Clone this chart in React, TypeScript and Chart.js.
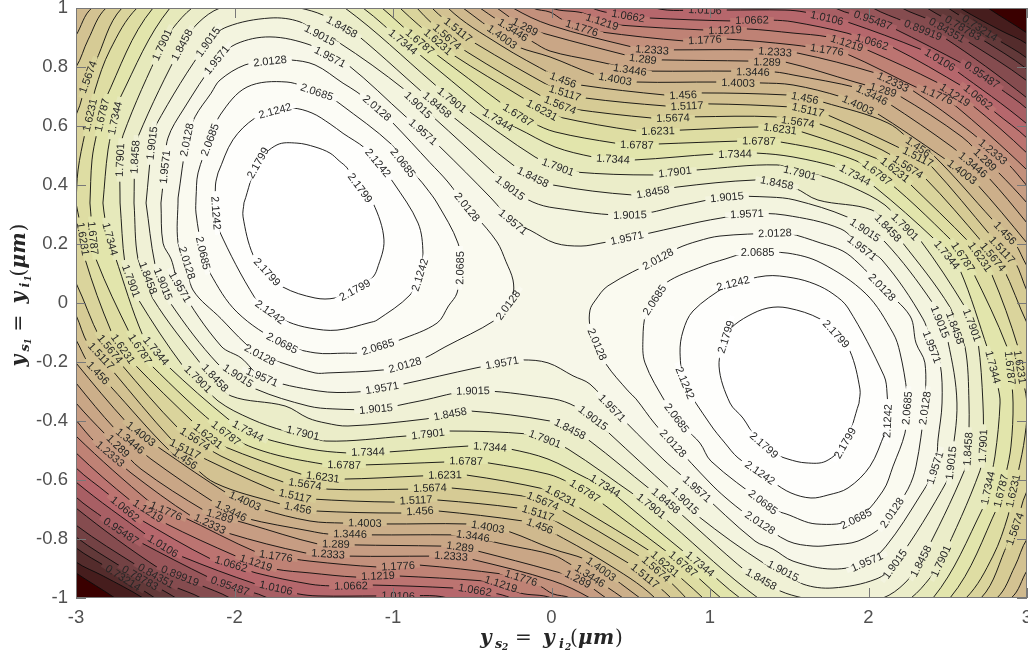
import React, { useEffect, useRef } from "react";
import { Chart, registerables } from "chart.js";

Chart.register(...registerables);

type P = number[];

const X_TICKS = [-3, -2, -1, 0, 1, 2, 3];
const Y_TICKS = [-1, -0.8, -0.6, -0.4, -0.2, 0, 0.2, 0.4, 0.6, 0.8, 1];

// Closed contours around the left peak (the right peak is the point reflection).
// Third value marks a label: 1 on both halves, 2 on this half only, 3 on the reflected half only.
const LOOP_2_1799: P[] = [[-1.94,.34],[-1.852,.475,1],[-1.732,.536],[-1.606,.542],[-1.492,.529],[-1.397,.508],[-1.34,.482,3],[-1.29,.458],[-1.208,.39,2],[-1.126,.339],[-1.057,.214],[-1.1,.115,3],[-1.132,.085],[-1.24,.044,2],[-1.366,.017],[-1.492,.017],[-1.694,.054],[-1.795,.105,1],[-1.883,.163],[-1.946,.292],[-1.94,.34]];
const LOOP_2_1242: P[] = [[-2.104,.441],[-2.01,.553],[-1.871,.627],[-1.744,.651,2],[-1.637,.661],[-1.511,.644],[-1.397,.607],[-1.315,.575,3],[-1.177,.525],[-1.095,.475,2],[-1,.41],[-.842,.271,3],[-.811,.169],[-.83,.095,2],[-.893,.027],[-1.101,-.058],[-1.145,-.066,3],[-1.353,-.092],[-1.524,-.085],[-1.662,-.064],[-1.776,-.031,2],[-1.871,.017],[-2.098,.247],[-2.117,.305,2],[-2.12,.4,3],[-2.104,.441]];
const LOOP_2_0685: P[] = [[-2.243,.356,3],[-2.23,.441],[-2.155,.553,2],[-2.091,.637],[-1.921,.732,3],[-1.669,.749],[-1.48,.715,2],[-1.41,.702],[-1.334,.675,3],[-1.006,.536],[-.937,.475,2],[-.842,.424],[-.79,.39,3],[-.722,.339],[-.59,.203],[-.577,.119,2],[-.596,.034],[-.65,-.01,3],[-.722,-.068],[-.956,-.125],[-1.095,-.149,2],[-1.221,-.169],[-1.3,-.17,3],[-1.492,-.169],[-1.7,-.136,2],[-1.984,-.031],[-2.155,.102],[-2.199,.169,2],[-2.243,.305],[-2.243,.356]];
const LOOP_2_0128: P[] = [[-2.356,.356,3],[-2.3,.553,2],[-2.249,.631],[-2.148,.711,3],[-2.091,.756],[-1.934,.807],[-1.776,.82,2],[-1.65,.824],[-1.492,.807],[-1.315,.745,3],[-1.227,.715],[-1.101,.661,2],[-1,.61],[-.767,.476,3],[-.653,.41],[-.533,.325,2],[-.483,.298],[-.344,.207],[-.287,.14,3],[-.243,.078],[-.243,.024],[-.274,-.007,2],[-.356,-.058],[-.672,-.149,3],[-.798,-.186],[-.924,-.21,2],[-1.063,-.227],[-1.41,-.237,3],[-1.492,-.237],[-1.7,-.203],[-1.839,-.176,2],[-1.934,-.136],[-2.085,-.053,3],[-2.262,.044],[-2.3,.136,2],[-2.356,.203],[-2.356,.356]];

// Half-curves over the top of the plot; each ends at the reflection of its start.
const HALF_1_9571: P[] = [[-2.464,.339],[-2.439,.461,2],[-2.42,.559,3],[-2.325,.654],[-2.111,.824,2],[-1.99,.878,3],[-1.776,.902],[-1.524,.875],[-1.397,.834,2],[-1.284,.807],[-.918,.631,3],[-.811,.58,2],[-.703,.529],[-.382,.356,3],[-.243,.275,2],[-.136,.247],[.022,.203],[.186,.193],[.312,.203,3],[.476,.22,2],[.937,.275],[1.069,.288,3],[1.233,.302,2],[1.473,.298],[1.826,.251,3],[1.959,.186,2],[2.085,.146],[2.344,-.054,3],[2.4,-.149,2],[2.451,-.203],[2.464,-.339]];
const HALF_1_9015: P[] = [[-2.558,.339],[-2.521,.542,1],[-2.502,.597],[-2.167,.885,1],[-2.047,.936],[-1.776,.966],[-1.587,.953],[-1.461,.908,1],[-1.347,.885],[-.924,.722],[-.842,.671,1],[-.748,.631],[-.369,.444],[-.262,.39,1],[-.117,.342],[.022,.322],[.495,.298,1],[.83,.332],[1.107,.359,1],[1.379,.359],[1.536,.349],[1.864,.292],[1.978,.247,1],[2.104,.207],[2.401,.003],[2.451,-.064,1],[2.502,-.132],[2.558,-.339]];
const HALF_1_8458: P[] = [[-2.634,.339],[-2.628,.495,1],[-2.609,.563],[-2.331,.875,1],[-2.23,.949],[-2.091,1],[-1.84,1.027],[-1.587,1],[-1.442,.976],[-1.322,.936,1],[-1.24,.915],[-.722,.671,1],[-.621,.631],[-.243,.468],[-.117,.427,1],[.009,.4],[.514,.366],[.64,.376,1],[.792,.393],[1.284,.417],[1.423,.407,2],[1.536,.39],[1.681,.349],[2.022,.315],[2.123,.254,1],[2.211,.207],[2.514,-.014],[2.546,-.085,1],[2.609,-.149],[2.634,-.339]];
const HALF_1_7901: P[] = [[-2.722,.339],[-2.722,.485,1],[-2.703,.569],[-2.457,.875,1],[-2.388,.932],[-2.268,1],[-1.965,1.112],[-1.587,1.078],[-1.303,1],[-.748,.746],[-.628,.688,1],[-.533,.654],[-.104,.495],[.041,.461,1],[.148,.444],[.64,.434],[.779,.444,1],[.918,.451],[1.423,.468],[1.568,.441,1],[1.681,.434],[1.896,.393],[2.104,.332],[2.23,.258,1],[2.325,.214],[2.609,-.014],[2.653,-.075,1],[2.691,-.132],[2.722,-.339]];
const HALF_1_7344: P[] = [[-2.83,.339],[-2.798,.519],[-2.754,.627,1],[-2.722,.695],[-2.407,1],[-2.028,1.153],[-1.524,1.119],[-1.189,1],[-.937,.885,1],[-.83,.841],[-.432,.664],[-.338,.62,1],[-.218,.593],[.022,.529],[.262,.495],[.388,.488,1],[.527,.485],[1.032,.505],[1.158,.505,1],[1.297,.508],[1.524,.495],[1.82,.458],[1.915,.434,1],[2.041,.393],[2.42,.214],[2.495,.163,1],[2.577,.112],[2.754,-.159],[2.785,-.217,1],[2.817,-.285],[2.83,-.339]];
const HALF_1_6787: P[] = [[-2.912,.339],[-2.899,.485],[-2.868,.576],[-2.836,.637,1],[-2.817,.688],[-2.514,1],[-2.028,1.2],[-1.461,1.17],[-1.069,1],[-.83,.885,1],[-.722,.841],[-.325,.681],[-.211,.637,1],[-.117,.61],[.022,.58],[.401,.542],[.539,.536,1],[.672,.539],[1.189,.549],[1.309,.549,1],[1.442,.546],[1.82,.502],[2.054,.441,1],[2.533,.207],[2.596,.156,1],[2.659,.105],[2.874,-.149],[2.893,-.22,1],[2.912,-.339]];
const HALF_1_6231: P[] = [[-3,.339],[-2.987,.451],[-2.943,.576],[-2.912,.637,1],[-2.88,.722],[-2.785,.858],[-2.615,1],[-2.028,1.264],[-1.397,1.234],[-.956,1],[-.716,.885,1],[-.621,.841],[-.18,.695],[-.06,.654,1],[.041,.631],[.539,.583],[.672,.583,1],[.811,.586],[1.328,.597],[1.442,.59,1],[1.58,.58],[2.073,.485],[2.167,.451,1],[2.249,.41],[2.64,.203],[2.703,.156,1],[2.779,.095],[2.943,-.149],[2.956,-.217,1],[3,-.339]];
const HALF_1_5674: P[] = [[-3.082,.142],[-3.164,.383],[-3.1,.569],[-3,.637],[-2.924,.766,1],[-2.88,.814],[-2.71,1],[-2.028,1.298],[-1.271,1.27],[-.849,1],[-.659,.902,1],[-.533,.851],[-.054,.698],[.054,.671,1],[.129,.658],[.634,.627],[.767,.627,1],[.905,.631],[1.41,.631],[1.555,.614,1],[1.675,.61],[2.085,.519],[2.249,.461,1],[2.356,.424],[2.716,.207],[2.785,.156,1],[2.849,.119],[3,-.068],[3.082,-.142]];
const HALF_1_5117: P[] = [[-3.082,.041],[-3.196,.451],[-3.133,.722],[-3,.8],[-2.924,.892],[-2.81,1],[-2.028,1.332],[-1.271,1.298],[-.754,1],[-.59,.925,1],[-.483,.881],[.009,.729],[.085,.712,1],[.211,.695],[.716,.668],[.855,.668,1],[.981,.675],[1.524,.664],[1.618,.654,1],[1.744,.637],[2.312,.495,1],[2.401,.461],[2.767,.231],[2.842,.18,1],[2.924,.139],[3,.041],[3.082,-.041]];
const HALF_1_456: P[] = [[-3.082,-.061],[-3.2,.4],[-3.13,.8],[-3,.907],[-2.9,1],[-2,1.36],[-1.2,1.33],[-.653,1],[-.325,.875],[.009,.773],[.073,.756,1],[.18,.739],[.716,.705],[.83,.705,1],[.95,.712],[1.492,.705],[1.599,.695,1],[1.713,.681],[2.123,.61],[2.312,.529,1],[2.407,.502],[2.785,.281],[2.861,.237,1],[2.924,.203],[3,.125],[3.082,.061]];

// Lower levels: visible band from the top edge to the right edge.
const BAND_1_4003: P[] = [[-.558,1],[-.312,.902,1],[-.211,.868],[-.009,.834],[.262,.776],[.401,.759,1],[.539,.749],[1.044,.749],[1.177,.746,1],[1.315,.746],[1.524,.739],[1.833,.698],[1.934,.671,1],[2.041,.647],[2.464,.495],[2.59,.444,1],[2.672,.41],[3,.203],[3.082,.14]];
const BAND_1_3446: P[] = [[-.451,1],[-.243,.925,1],[-.117,.885],[-.009,.854],[.262,.822],[.388,.807],[.495,.79,1],[.634,.786],[1.139,.786],[1.271,.783,1],[1.41,.783],[1.524,.773],[1.934,.729],[2.022,.705,1],[2.123,.678],[2.527,.529],[2.659,.468,1],[2.754,.427],[3,.271],[3.082,.21]];
const BAND_1_289: P[] = [[-.344,1],[-.167,.936,1],[-.009,.908],[.464,.841],[.577,.827,1],[.697,.824],[1.252,.82],[1.36,.817,1],[1.473,.817],[1.915,.749],[2.092,.722,1],[2.186,.705],[2.59,.563],[2.735,.485,1],[2.817,.444],[3,.339],[3.082,.28]];
const BAND_1_2333: P[] = [[-.243,1],[-.009,.942],[.508,.868],[.634,.858,1],[.767,.858],[1.271,.858],[1.41,.851,1],[1.555,.847],[2.041,.78],[2.155,.749,1],[2.274,.722],[2.653,.576],[2.785,.512,1],[2.874,.475],[3,.397],[3.082,.34]];
const BAND_1_1776: P[] = [[-.117,1],[-.009,.986],[.073,.959],[.192,.932,1],[.306,.919],[.842,.888],[.968,.892,1],[1.095,.895],[1.524,.875],[1.738,.858,1],[1.852,.847],[2.338,.722],[2.432,.705,1],[2.527,.678],[3,.451],[3.082,.39]];
const BAND_1_1219: P[] = [[0,1],[.199,.983],[.319,.953,1],[.432,.942],[.981,.925],[1.095,.925,1],[1.233,.929],[1.524,.915],[1.744,.902],[1.864,.881,1],[1.991,.858],[2.439,.746],[2.546,.705,1],[2.653,.671],[3,.508],[3.082,.45]];
const BAND_1_0662: P[] = [[.256,1],[.483,.973,1],[.621,.966],[1.139,.956],[1.265,.959,1],[1.391,.959],[1.524,.953],[1.864,.915],[2.022,.885,1],[2.148,.868],[2.609,.729],[2.691,.698,1],[2.798,.647],[3,.559],[3.082,.5]];
const BAND_1_0106: P[] = [[.653,1],[.968,.993,1],[1.095,.993],[1.473,.993],[1.599,.986],[1.738,.966,1],[1.864,.953],[2.338,.858],[2.451,.824,1],[2.546,.79],[3,.607],[3.082,.55]];
const BAND_0_95487: P[] = [[1.789,1],[2.028,.959,1],[2.155,.932],[2.609,.807],[2.716,.773,1],[2.817,.732],[3,.658],[3.082,.6]];
const BAND_0_89919: P[] = [[2.028,1],[2.23,.953],[2.344,.925,1],[2.47,.902],[3,.695],[3.082,.64]];
const BAND_0_84351: P[] = [[2.211,1],[2.388,.959],[2.495,.925,1],[2.609,.892],[3,.753],[3.082,.7]];
const BAND_0_78783: P[] = [[2.369,1],[2.596,.932,1],[2.703,.898],[3,.793],[3.082,.74]];
const BAND_0_73214: P[] = [[2.502,1],[2.703,.932,1],[2.798,.898],[3,.83],[3.082,.78]];
const BAND_0_67646: P[] = [[2.577,1],[2.83,.925],[3,.878],[3.082,.83]];
const BAND_0_62078: P[] = [[2.754,1],[3,.915],[3.082,.88]];

const mirror = (a: P[]): P[] => a.map(([x, y, l]) => [-x, -y, l === 1 || l === 3 ? 1 : 0]);
const closeHalf = (a: P[]): P[] => [...a, ...mirror(a).slice(1)];
// The band is joined to its reflection through points outside the plot area, which the clip hides.
const closeBand = (a: P[]): P[] => {
  const end = a[a.length - 1];
  return closeHalf([[-end[0], -end[1]], [-3.4, 0.3], [-3.4, 1.4], [a[0][0] - 0.15, 1.06], ...a]);
};

const CONTOURS: { text: string; pts: P[] }[] = [
  { text: "0.62078", pts: closeBand(BAND_0_62078) },
  { text: "0.67646", pts: closeBand(BAND_0_67646) },
  { text: "0.73214", pts: closeBand(BAND_0_73214) },
  { text: "0.78783", pts: closeBand(BAND_0_78783) },
  { text: "0.84351", pts: closeBand(BAND_0_84351) },
  { text: "0.89919", pts: closeBand(BAND_0_89919) },
  { text: "0.95487", pts: closeBand(BAND_0_95487) },
  { text: "1.0106", pts: closeBand(BAND_1_0106) },
  { text: "1.0662", pts: closeBand(BAND_1_0662) },
  { text: "1.1219", pts: closeBand(BAND_1_1219) },
  { text: "1.1776", pts: closeBand(BAND_1_1776) },
  { text: "1.2333", pts: closeBand(BAND_1_2333) },
  { text: "1.289", pts: closeBand(BAND_1_289) },
  { text: "1.3446", pts: closeBand(BAND_1_3446) },
  { text: "1.4003", pts: closeBand(BAND_1_4003) },
  { text: "1.456", pts: closeHalf(HALF_1_456) },
  { text: "1.5117", pts: closeHalf(HALF_1_5117) },
  { text: "1.5674", pts: closeHalf(HALF_1_5674) },
  { text: "1.6231", pts: closeHalf(HALF_1_6231) },
  { text: "1.6787", pts: closeHalf(HALF_1_6787) },
  { text: "1.7344", pts: closeHalf(HALF_1_7344) },
  { text: "1.7901", pts: closeHalf(HALF_1_7901) },
  { text: "1.8458", pts: closeHalf(HALF_1_8458) },
  { text: "1.9015", pts: closeHalf(HALF_1_9015) },
  { text: "1.9571", pts: closeHalf(HALF_1_9571) },
  { text: "2.0128", pts: LOOP_2_0128 },
  { text: "2.0128", pts: mirror(LOOP_2_0128) },
  { text: "2.0685", pts: LOOP_2_0685 },
  { text: "2.0685", pts: mirror(LOOP_2_0685) },
  { text: "2.1242", pts: LOOP_2_1242 },
  { text: "2.1242", pts: mirror(LOOP_2_1242) },
  { text: "2.1799", pts: LOOP_2_1799 },
  { text: "2.1799", pts: mirror(LOOP_2_1799) },
];

const COLOR_STOPS = [
  [0.6, 58, 0, 0], [0.65, 70, 30, 30], [0.75, 95, 55, 55], [0.85, 125, 72, 75], [0.95, 160, 90, 95],
  [1.05, 185, 105, 110], [1.13, 190, 125, 115], [1.25, 198, 155, 130], [1.4, 205, 180, 140],
  [1.55, 215, 205, 150], [1.7, 225, 228, 170], [1.85, 238, 240, 210], [2.0, 248, 248, 235], [2.18, 255, 255, 255],
];
const colorAt = (v: number) => {
  for (let i = 1; i < COLOR_STOPS.length; i++) {
    const a = COLOR_STOPS[i - 1], b = COLOR_STOPS[i];
    if (v <= b[0]) {
      const t = Math.max(0, (v - a[0]) / (b[0] - a[0]));
      return `rgb(${[1, 2, 3].map((k) => Math.round(a[k] + (b[k] - a[k]) * t)).join(",")})`;
    }
  }
  return "rgb(255,255,255)";
};
const bandColor = (text: string) => colorAt(parseFloat(text) + 0.028);

const SANS = '"Liberation Sans", Arial, sans-serif';
const MATH = '"DejaVu Serif", serif';
const BI = (s: number) => `italic bold ${s}px ${MATH}`;
const UP = (s: number) => `${s}px ${MATH}`;
// [text, font, x offset along the title, baseline shift]
const titleRuns = (k: string): [string, string, number, number][] => [
  ["y", BI(20), 2, 0], ["s", BI(13), 17, 3.5], [k, BI(9), 24, 6], ["=", UP(20), 37, 0],
  ["y", BI(20), 65, 0], ["i", BI(13), 81, 3.5], [k, BI(9), 87, 6], ["(", UP(20), 92, 0], ["μ", BI(20), 100, 0], ["m", BI(20), 115, 0], [")", UP(20), 137, 0],
];
const TITLE_LENGTH = 145;

const drawTitle = (ctx: CanvasRenderingContext2D, cx: number, cy: number, rot: number, k: string) => {
  ctx.save();
  ctx.translate(cx, cy);
  ctx.rotate(rot);
  ctx.fillStyle = "#262626";
  ctx.textBaseline = "alphabetic";
  ctx.textAlign = "left";
  for (const [t, f, x, dy] of titleRuns(k)) {
    ctx.font = f;
    ctx.fillText(t, x - TITLE_LENGTH / 2, dy);
  }
  ctx.restore();
};

const plotPlugin = {
  id: "plotDecor",
  beforeDatasetsDraw(chart: any) {
    const { ctx, chartArea: a } = chart;
    ctx.save();
    ctx.fillStyle = "rgb(58,0,0)";
    ctx.fillRect(a.left, a.top, a.right - a.left, a.bottom - a.top);
    ctx.restore();
  },
  afterDatasetsDraw(chart: any) {
    const { ctx, chartArea: a, scales } = chart;
    const X = scales.x, Y = scales.y;
    ctx.save();
    ctx.beginPath();
    ctx.rect(a.left, a.top, a.right - a.left, a.bottom - a.top);
    ctx.clip();
    ctx.font = `11px ${SANS}`;
    ctx.textAlign = "center";
    ctx.textBaseline = "middle";
    for (const c of CONTOURS) {
      const n = c.pts.length;
      c.pts.forEach((p, i) => {
        if (p[2] !== 1 && p[2] !== 2) return;
        const prev = c.pts[Math.max(0, i - 1)], next = c.pts[Math.min(n - 1, i + 1)];
        const px = X.getPixelForValue(p[0]), py = Y.getPixelForValue(p[1]);
        let ang = Math.atan2(Y.getPixelForValue(next[1]) - Y.getPixelForValue(prev[1]), X.getPixelForValue(next[0]) - X.getPixelForValue(prev[0]));
        if (ang > Math.PI / 2) ang -= Math.PI;
        if (ang < -Math.PI / 2) ang += Math.PI;
        const w = ctx.measureText(c.text).width;
        ctx.save();
        ctx.translate(px, py);
        ctx.rotate(ang);
        ctx.fillStyle = bandColor(c.text);
        ctx.fillRect(-w / 2 - 5, -2.5, w + 10, 5);
        ctx.fillStyle = "rgb(38,38,38)";
        ctx.fillText(c.text, 0, 0.5);
        ctx.restore();
      });
    }
    ctx.restore();
    ctx.save();
    ctx.strokeStyle = "rgb(120,120,120)";
    ctx.lineWidth = 1;
    ctx.strokeRect(a.left + 0.5, a.top + 0.5, a.right - a.left - 1, a.bottom - a.top - 1);
    ctx.beginPath();
    const L = 10;
    for (const v of X_TICKS) {
      const x = Math.round(X.getPixelForValue(v)) + 0.5;
      ctx.moveTo(x, a.bottom); ctx.lineTo(x, a.bottom - L);
      ctx.moveTo(x, a.top); ctx.lineTo(x, a.top + L);
    }
    for (const v of Y_TICKS) {
      const y = Math.round(Y.getPixelForValue(v)) + 0.5;
      ctx.moveTo(a.left, y); ctx.lineTo(a.left + L, y);
      ctx.moveTo(a.right, y); ctx.lineTo(a.right - L, y);
    }
    ctx.stroke();
    ctx.restore();
    drawTitle(ctx, 550.5, 644, 0, "2");
    drawTitle(ctx, 25, 296, -Math.PI / 2, "1");
  },
};

export default function App() {
  const ref = useRef<HTMLCanvasElement>(null);
  useEffect(() => {
    document.body.style.margin = "0";
    const tickFont = { family: SANS, size: 18.5 };
    const noPad = (s: any) => { s.paddingLeft = 0; s.paddingRight = 0; s.paddingTop = 0; s.paddingBottom = 0; };
    const chart = new Chart(ref.current as HTMLCanvasElement, {
      type: "scatter",
      data: {
        datasets: CONTOURS.map((c, i) => ({
          label: c.text,
          data: c.pts.map((p) => ({ x: p[0], y: p[1] })),
          showLine: true,
          fill: "shape",
          backgroundColor: bandColor(c.text),
          borderColor: "rgb(10,10,10)",
          borderWidth: 0.9,
          pointRadius: 0,
          pointHoverRadius: 0,
          tension: 0.35,
          capBezierPoints: false,
          order: -i,
        })),
      } as any,
      plugins: [plotPlugin],
      options: {
        animation: false,
        responsive: false,
        devicePixelRatio: 1,
        events: [],
        layout: { padding: { top: 8, right: 1, left: 0, bottom: 0 } },
        elements: { line: { capBezierPoints: false } },
        plugins: { legend: { display: false }, tooltip: { enabled: false }, filler: { drawTime: "beforeDatasetDraw" } as any },
        scales: {
          x: {
            type: "linear", min: -3, max: 3,
            grid: { display: false, drawTicks: false }, border: { display: false },
            afterBuildTicks: (s: any) => { s.ticks = X_TICKS.map((value) => ({ value })); },
            afterFit: (s: any) => { s.height = 60; noPad(s); },
            ticks: { font: tickFont, color: "rgb(80,80,80)", padding: 9, maxRotation: 0, autoSkip: false, callback: (v: any) => String(v) },
          },
          y: {
            type: "linear", min: -1, max: 1,
            grid: { display: false, drawTicks: false }, border: { display: false },
            afterBuildTicks: (s: any) => { s.ticks = Y_TICKS.map((value) => ({ value })); },
            afterFit: (s: any) => { s.width = 76; noPad(s); },
            ticks: { font: tickFont, color: "rgb(80,80,80)", padding: 8, autoSkip: false, callback: (v: any) => String(v) },
          },
        },
      } as any,
    });
    return () => chart.destroy();
  }, []);
  return <canvas ref={ref} width={1028} height={658} style={{ display: "block" }} />;
}
